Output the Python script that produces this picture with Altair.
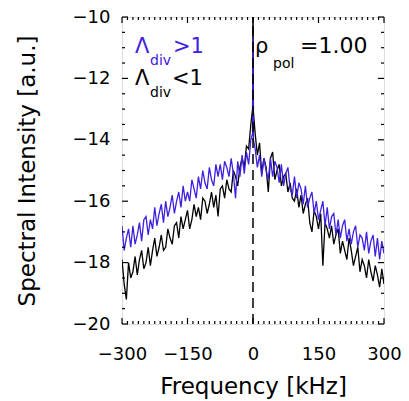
import altair as alt
import pandas as pd

# ---- data ----
freq = ([-300 + 5 * i for i in range(60)] + [-1, 0, 1]
        + [5 + 5 * i for i in range(60)])  # kHz

black = [
    -17.9, -18.7, -19.2, -18.0, -18.5, -18.3, -17.8, -18.4, -17.9, -17.6,
    -18.2, -18.0, -17.5, -18.1, -17.6, -17.2, -17.8, -17.5, -17.1, -17.6,
    -17.5, -16.9, -17.2, -17.4, -16.8, -16.7, -17.2, -16.5, -16.9, -16.6,
    -16.3, -16.9, -16.6, -16.1, -16.5, -16.2, -16.6, -15.9, -16.0, -16.4,
    -16.1, -15.7, -16.2, -15.8, -16.5, -15.6, -15.5, -15.9, -15.3, -15.6,
    -15.7, -15.0, -15.2, -15.5, -14.9, -14.6, -14.9, -14.2, -14.3, -13.5,
    -13.0, -9.0, -13.1,
    -13.8, -14.5, -14.1, -15.1, -14.6, -14.9, -15.7, -14.6, -14.4, -15.3,
    -15.0, -14.8, -15.5, -15.2, -15.1, -15.7, -15.4, -15.9, -16.0, -15.6,
    -16.2, -15.8, -16.4, -16.1, -15.9, -16.7, -17.0, -16.3, -16.5, -16.9,
    -16.4, -18.1, -16.7, -16.9, -17.2, -16.8, -17.4, -17.1, -16.9, -17.7,
    -17.3, -17.6, -17.9, -17.2, -17.6, -18.1, -17.8, -17.5, -18.3, -17.9,
    -18.1, -18.5, -17.9, -18.3, -18.6, -18.1, -18.4, -18.8, -18.2, -18.7,
]

blue = [
    -16.8, -17.6, -17.2, -16.9, -17.5, -16.8, -17.4, -17.1, -16.7, -17.3,
    -16.6, -16.5, -17.1, -16.6, -16.9, -16.2, -16.8, -16.4, -16.1, -16.7,
    -16.0, -16.5, -16.2, -15.8, -16.4, -16.0, -15.7, -16.2, -15.5, -16.0,
    -15.7, -16.0, -15.3, -15.6, -15.9, -15.2, -15.6, -15.0, -15.4, -15.6,
    -14.9, -15.3, -15.5, -14.8, -15.2, -14.8, -15.3, -14.7, -14.9, -15.2,
    -14.6, -15.1, -15.9, -14.7, -15.2, -14.5, -15.1, -14.4, -14.8, -14.0,
    -13.8, -10.7, -14.0,
    -14.3, -14.9, -14.5, -15.2, -14.6, -15.0, -15.3, -14.6, -15.2, -14.7,
    -14.9, -15.4, -14.8, -15.5, -15.1, -14.9, -15.6, -15.8, -15.2, -15.9,
    -15.4, -15.6, -16.1, -15.5, -16.2, -15.9, -15.7, -16.4, -16.0, -16.6,
    -16.3, -16.0, -16.8, -16.2, -16.9, -16.5, -16.4, -17.1, -16.6, -17.2,
    -16.8, -16.6, -17.3, -16.9, -17.4, -17.0, -16.8, -17.5, -17.1, -17.2,
    -17.6, -17.0, -17.7, -17.3, -17.1, -17.8, -17.2, -17.9, -17.3, -17.7,
]
assert len(black) == len(freq) == len(blue)

x_label_values = [-300, -150, 0, 150, 300]
y_label_values = [-20, -18, -16, -14, -12, -10]
x_minor = [v for v in [-300 + 12.5 * k for k in range(49)] if v not in x_label_values]
y_minor = [v for v in [-20 + 0.5 * k for k in range(21)] if v not in y_label_values]

BLUE = "#4020e0"
FONT = "DejaVu Sans"
W, H = 262, 307
MAJ, MIN = 6, 3

df_black = pd.DataFrame({"freq": freq, "val": black})
df_blue = pd.DataFrame({"freq": freq, "val": blue})
df_rule = pd.DataFrame({"freq": [0], "lo": [-20], "hi": [-10]})

xs = alt.Scale(domain=[-300, 300], nice=False, zero=False)
ys = alt.Scale(domain=[-20, -10], nice=False, zero=False)

black_layer = alt.Chart(df_black).mark_line(color="black", strokeWidth=1.3, clip=True).encode(
    x=alt.X("freq:Q", scale=xs, axis=alt.Axis(
        orient="bottom", values=x_label_values, ticks=False, tickSize=0, domain=False, grid=False,
        labelFont=FONT, labelFontSize=18, labelColor="black", labelPadding=21,
        labelOverlap=False, labelFlush=False,
        title="Frequency [kHz]", titleFont=FONT, titleFontSize=23, titleFontWeight="normal",
        titleColor="black", titlePadding=12)),
    y=alt.Y("val:Q", scale=ys, axis=alt.Axis(
        orient="left", values=y_label_values, ticks=False, tickSize=0, domain=False, grid=False,
        labelFont=FONT, labelFontSize=18, labelColor="black", labelPadding=12,
        labelOverlap=False, labelFlush=False,
        title="Spectral Intensity [a.u.]", titleFont=FONT, titleFontSize=23,
        titleFontWeight="normal", titleColor="black", titlePadding=33)),
)

blue_layer = alt.Chart(df_blue).mark_line(color=BLUE, strokeWidth=1.3, clip=True).encode(
    x=alt.X("freq:Q", scale=xs),
    y=alt.Y("val:Q", scale=ys),
)

rule_layer = alt.Chart(df_rule).mark_rule(color="black", strokeWidth=1.5, strokeDash=[10, 6]).encode(
    x=alt.X("freq:Q", scale=xs),
    y=alt.Y("lo:Q", scale=ys),
    y2="hi:Q",
)


def xticks(values, y0, y1):
    return alt.Chart(pd.DataFrame({"freq": values})).mark_rule(color="black", strokeWidth=1.2).encode(
        x=alt.X("freq:Q", scale=xs), y=alt.value(y0), y2=alt.value(y1))


def yticks(values, x0, x1):
    return alt.Chart(pd.DataFrame({"val": values})).mark_rule(color="black", strokeWidth=1.2).encode(
        y=alt.Y("val:Q", scale=ys), x=alt.value(x0), x2=alt.value(x1))


ticks = [
    xticks(x_label_values, H, H - MAJ), xticks(x_minor, H, H - MIN),
    xticks(x_label_values, 0, MAJ), xticks(x_minor, 0, MIN),
    yticks(y_label_values, 0, MAJ), yticks(y_minor, 0, MIN),
    yticks(y_label_values, W, W - MAJ), yticks(y_minor, W, W - MIN),
]


def label(txt, px, py, size, color="black"):
    return alt.Chart(pd.DataFrame({"t": [txt]})).mark_text(
        align="left", baseline="alphabetic", font=FONT, fontSize=size, color=color
    ).encode(x=alt.value(px), y=alt.value(py), text="t:N")


texts = [
    label("Λ", 13, 36, 21, BLUE), label("div", 28, 48, 14, BLUE), label(">1", 51, 36, 21, BLUE),
    label("Λ", 13, 68, 21), label("div", 28, 80, 14), label("<1", 50, 68, 21),
    label("ρ", 133, 36, 21), label("pol", 151, 51, 14), label("=1.00", 178, 36, 22),
]

chart = alt.layer(black_layer, blue_layer, rule_layer, *ticks, *texts).properties(
    width=W, height=H,
    autosize=alt.AutoSizeParams(type="none"),
    padding={"left": 114, "top": 9, "right": 17, "bottom": 80},
).configure_view(stroke="black", strokeWidth=1.5).configure(background="white")

chart.save("out.html", embed_options={"renderer": "svg", "actions": False})
